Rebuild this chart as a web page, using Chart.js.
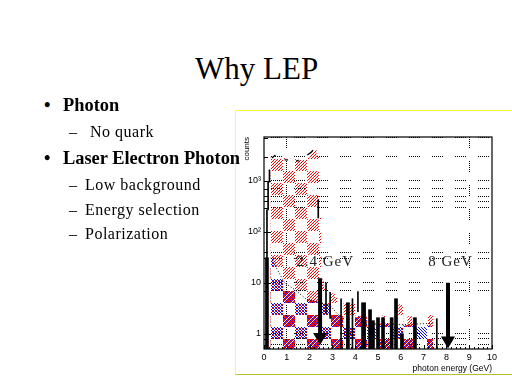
<!DOCTYPE html>
<html>
<head>
<meta charset="utf-8">
<title>Why LEP</title>
<script src="https://cdn.jsdelivr.net/npm/chart.js@4/dist/chart.umd.min.js"></script>
<style>
  html, body { margin: 0; padding: 0; background: #fff; }
  body { position: relative; width: 512px; height: 384px; overflow: hidden; font-family: "Liberation Serif", serif; color: #000; }
  .line { position: absolute; white-space: pre; line-height: 1; z-index: 2; }
  .head { font-size: 31px; }
  .main { font-size: 18.4px; font-weight: bold; }
  .sub { font-size: 16px; letter-spacing: 0.5px; }
  #frame { position: absolute; left: 235px; top: 110px; width: 277px; height: 263px; border-left: 1px solid #ffff33; border-top: 1px solid #ffff33; border-bottom: 1px solid #bcbc2a; z-index: 1; }
  #spectrum { position: absolute; left: 236px; top: 111px; z-index: 1; }
</style>
</head>
<body>
<div id="frame"></div>
<canvas id="spectrum" width="276" height="263"></canvas>

<div class="line head" style="left:195px;top:53px">Why LEP</div>
<div class="line main" style="left:44px;top:96px">•</div>
<div class="line main" style="left:63px;top:96px">Photon</div>
<div class="line sub" style="left:69px;top:124px">–</div>
<div class="line sub" style="left:90px;top:124px">No quark</div>
<div class="line main" style="left:44px;top:149px">•</div>
<div class="line main" style="left:63px;top:149px">Laser Electron Photon</div>
<div class="line sub" style="left:69px;top:177px">–</div>
<div class="line sub" style="left:85px;top:177px">Low background</div>
<div class="line sub" style="left:69px;top:202px">–</div>
<div class="line sub" style="left:85px;top:202px">Energy selection</div>
<div class="line sub" style="left:69px;top:226px">–</div>
<div class="line sub" style="left:85px;top:226px">Polarization</div>

<script>
// red histogram, 0.1 GeV bins
const redEnergy = [
  0.35, 0.45, 0.55, 0.65, 0.75, 0.85, 0.95, 1.05, 1.15, 1.25, 1.35, 1.45, 1.55, 1.65, 1.75, 1.85,
  1.95, 2.05, 2.15, 2.25, 2.35, 2.45, 2.55, 2.65, 2.75, 2.85, 2.95, 3.05, 3.15, 3.25, 3.35, 3.45,
  3.55, 3.65, 3.75, 3.85, 3.95, 4.05, 4.15, 4.25, 4.45, 5.25, 5.95, 6.05, 6.35, 6.45, 7.25, 7.35,
];
const redCounts = [
  2950, 2950, 3100, 2900, 2800, 2700, 2650, 2600, 2600, 2600, 2550, 2500, 2500, 2450, 2450, 2500,
  2700, 3100, 3500, 3900, 3000, 187, 11, 8, 6.5, 6, 6, 5.8, 5, 3, 2.6, 2.4,
  4, 4, 4, 4, 4, 2, 2, 2, 1.5, 2.2, 3.6, 3.5, 2.1, 2.1, 2.4, 2.4,
];

// blue histogram, same bins
const blueEnergy = [
  0.35, 0.45, 0.55, 0.65, 0.75, 0.85, 0.95, 1.05, 1.15, 1.25, 1.35, 1.45, 1.55, 1.65, 1.75, 1.85,
  1.95, 2.05, 2.15, 2.25, 2.35, 2.45, 2.55, 2.65, 2.75, 2.85, 2.95, 3.05, 3.15, 3.25, 3.35, 3.45,
  3.55, 3.65, 3.75, 3.85, 3.95, 4.05, 4.15, 4.25, 4.35, 4.45, 4.55, 4.65, 4.75, 4.85, 4.95, 5.05,
  5.15, 5.25, 5.35, 5.45, 5.55, 5.65, 5.75, 5.85, 5.95, 6.05, 6.15, 6.25, 6.35, 6.45, 6.55, 6.65,
  6.75, 6.85, 6.95, 7.05, 7.15, 7.25, 7.35,
];
const blueCounts = [
  31, 25, 20, 16, 13, 10.5, 9.5, 8.5, 8, 7.5, 7.2, 6.6, 6.2, 5.8, 5.4, 5,
  4.6, 4.5, 4.3, 4.2, 4.1, 4, 3.7, 3.7, 3.7, 3.6, 3.2, 2.8, 2.5, 2.3, 2.2, 2,
  1.4, 1.4, 1.4, 1.4, 1.3, 2, 2.1, 2.1, 2.1, 2.05, 1.5, 1.5, 1.5, 1.5, 1.5, 1.5,
  1.5, 1.5, 1.5, 1.5, 1.5, 1.5, 1.5, 1.5, 1.5, 1.4, 1.4, 1.4, 1.4, 1.4, 1.5, 1.5,
  1.5, 1.5, 1.4, 1.4, 1.4, 1.4, 1.3,
];

// black spikes of the third histogram, low and high end of each one
const thickEnergy = [0.13, 3.68, 4.39, 4.65, 4.78, 5.0, 5.22, 5.6, 5.79, 6.05, 6.62];
const thickLow = [0.5, 0.5, 0.5, 0.5, 0.5, 0.5, 0.5, 0.5, 0.5, 0.5, 0.5];
const thickHigh = [31, 4.05, 4.05, 2.96, 1.8, 2.06, 2.06, 2.06, 4.86, 1, 2.06];

const thinEnergy = [0.13, 0.18, 0.24, 2.38, 2.72, 2.9, 3.38, 3.88, 4.12, 4.3, 7.58];
const thinLow = [31, 270, 950, 187, 2.5, 2, 0.5, 0.5, 2.7, 0.5, 0.5];
const thinHigh = [270, 950, 1650, 425, 10, 6.5, 4.86, 4.86, 6.7, 4.05, 1.97];

// solid top edge and dotted edge of the blue histogram
const topEnergy = [0.35, 0.5, 0.6, 0.9, 1.05, 1.2, 1.4, 1.55, 1.7, 1.9, 2.05, 2.15];
const topCounts = [2830, 3240, null, 2590, 2590, null, 2480, 2480, null, 3240, 3600, 4000];
const dotEnergy = [0.3, 0.9, 1.35, 1.9, 2.35, 2.9, 3.2, 3.45, 4.0, 4.6, 5.2, 6.0, 7.4];
const dotCounts = [31, 10, 7.3, 4.6, 4.2, 3.6, 2.5, 2, 1.9, 1.5, 1.6, 1.5, 1.6];

// axes
const yMin = 0.5;
const yMax = 7300;
const gridRows = [0.6, 0.8, 1, 7, 10, 30, 40, 100, 300, 400, 500, 700, 1000, 3000, 7000];
const yLabels = { 1: "1", 10: "10", 100: "10²", 1000: "10³" };
const gridColumns = [1, 9];

// annotations
const arrowEnergy = [2.46, 8.07];
const arrowTop = [12.3, 10];
const arrowTip = [0.6, 0.51];
const arrowText = ["2.4 GeV", "8 GeV"];
const textEnergy = [1.41, 7.2];
const textCounts = [21, 21];

// 24px tile of hatched squares, lined up with the canvas origin
function makeTile(paint) {
  const tile = document.createElement("canvas");
  tile.width = 24;
  tile.height = 24;
  const c = tile.getContext("2d");
  for (let px = 0; px < 24; px++) {
    for (let py = 0; py < 24; py++) {
      const u = (px + 13) % 24;
      const v = (py + 0) % 24;
      const a = u < 12 && v < 12;
      const b = u >= 12 && v >= 12;
      if (!a && !b) continue;
      const color = paint(u, v, a);
      if (color) {
        c.fillStyle = color;
        c.fillRect(px, py, 1, 1);
      }
    }
  }
  return c.createPattern(tile, "repeat");
}

const redHatch = makeTile((u, v) => ((u + v) % 3 === 0 ? "#ff0000" : null));
const blueHatch = makeTile((u, v, a) => {
  if (a) return (u - v + 24) % 3 === 0 ? "#0000ff" : null;
  if ((u + v) % 4 === 3) return null;
  return (Math.floor(u / 2) + Math.floor(v / 2)) % 2 ? "#0000ff" : "#ff0000";
});

function points(xs, ys) {
  return xs.map((x, i) => ({ x: x, y: ys[i] }));
}

function floating(xs, lows, highs) {
  return xs.map((x, i) => ({ x: x, y: [lows[i], highs[i]] }));
}

// frame, small inner ticks, arrows and the two energy labels
const decorations = {
  id: "decorations",
  afterDraw(chart) {
    const ctx = chart.ctx;
    const area = chart.chartArea;
    const x = chart.scales.x;
    const y = chart.scales.y;
    ctx.save();
    ctx.strokeStyle = "#000";
    ctx.lineWidth = 1;
    gridRows.forEach((v) => {
      const py = Math.round(y.getPixelForValue(v)) + 0.5;
      const len = v in yLabels ? 7 : 4;
      ctx.beginPath();
      ctx.moveTo(area.left, py);
      ctx.lineTo(area.left + len, py);
      ctx.stroke();
    });
    for (let i = 0; i <= 50; i++) {
      const px = Math.round(x.getPixelForValue(i / 5)) + 0.5;
      ctx.beginPath();
      ctx.moveTo(px, area.bottom);
      ctx.lineTo(px, area.bottom - (i % 5 === 0 ? 4 : 2));
      ctx.stroke();
    }
    ctx.lineWidth = 1.2;
    ctx.strokeRect(area.left, area.top, area.right - area.left, area.bottom - area.top);

    ctx.fillStyle = "#000";
    arrowEnergy.forEach((e, i) => {
      const px = x.getPixelForValue(e);
      const top = y.getPixelForValue(arrowTop[i]);
      const tip = y.getPixelForValue(arrowTip[i]);
      ctx.fillRect(px - 2, top, 4, tip - top - 6);
      ctx.beginPath();
      ctx.moveTo(px - 7, tip - 12);
      ctx.lineTo(px + 7, tip - 12);
      ctx.lineTo(px, tip);
      ctx.closePath();
      ctx.fill();
    });

    ctx.font = "15px 'Liberation Serif'";
    ctx.letterSpacing = "1px";
    ctx.fillStyle = "#222";
    ctx.textBaseline = "alphabetic";
    arrowText.forEach((t, i) => {
      ctx.fillText(t, x.getPixelForValue(textEnergy[i]), y.getPixelForValue(textCounts[i]));
    });
    ctx.restore();
  },
};

const ctx = document.getElementById("spectrum").getContext("2d");

new Chart(ctx, {
  type: "bar",
  data: {
    datasets: [
      { type: "line", data: points(topEnergy, topCounts), borderColor: "#000", borderWidth: 1.3, pointRadius: 0, spanGaps: false, order: 1 },
      { type: "line", data: points(dotEnergy, dotCounts), borderColor: "#000", borderWidth: 1, borderDash: [1, 2], pointRadius: 0, order: 1 },
      { data: floating(thickEnergy, thickLow, thickHigh), backgroundColor: "#000", barThickness: 3, grouped: false, order: 2 },
      { data: floating(thinEnergy, thinLow, thinHigh), backgroundColor: "#000", barThickness: 1, grouped: false, order: 2 },
      { data: points(blueEnergy, blueCounts), backgroundColor: blueHatch, barPercentage: 1, categoryPercentage: 1, inflateAmount: 1, grouped: false, order: 3 },
      { data: points(redEnergy, redCounts), backgroundColor: redHatch, barPercentage: 1, categoryPercentage: 1, inflateAmount: 1, grouped: false, order: 4 },
    ],
  },
  options: {
    responsive: false,
    animation: false,
    layout: { padding: { top: 26, right: 20, left: 0, bottom: 0 } },
    plugins: { legend: { display: false }, tooltip: { enabled: false } },
    scales: {
      x: {
        type: "linear",
        offset: false,
        min: 0,
        max: 10,
        afterFit: (scale) => { scale.height = 25; },
        afterBuildTicks: (scale) => {
          scale.ticks = [0, 1, 2, 3, 4, 5, 6, 7, 8, 9, 10].map((v) => ({ value: v }));
        },
        ticks: {
          color: "#000",
          padding: 3,
          maxRotation: 0,
          autoSkip: false,
          font: { family: "Liberation Sans", size: 9 },
        },
        grid: {
          z: 1,
          offset: false,
          drawTicks: false,
          lineWidth: 1,
          color: (c) => (c.tick && gridColumns.includes(c.tick.value) ? "#000" : "rgba(0,0,0,0)"),
        },
        border: { display: false, dash: [1, 1, 1, 1, 1, 1, 1, 1, 1, 1, 1, 13], dashOffset: 24 },
        title: {
          display: true,
          text: "photon energy (GeV)",
          align: "end",
          color: "#000",
          padding: 0,
          font: { family: "Liberation Sans", size: 8.5 },
        },
      },
      y: {
        type: "logarithmic",
        min: yMin,
        max: yMax,
        afterFit: (scale) => { scale.width = 28; },
        afterBuildTicks: (scale) => {
          scale.ticks = gridRows.map((v) => ({ value: v }));
        },
        ticks: {
          color: "#000",
          padding: 3,
          autoSkip: false,
          font: { family: "Liberation Sans", size: 9 },
          callback: (v) => yLabels[v] || "",
        },
        grid: {
          z: 1,
          drawTicks: false,
          lineWidth: 1,
          color: (c) => (c.tick && c.tick.value !== 100 ? "#000" : "rgba(0,0,0,0)"),
        },
        border: { display: false, dash: [1, 1, 1, 1, 1, 1, 1, 1, 1, 1, 1, 12], dashOffset: 16 },
        title: {
          display: true,
          text: "counts",
          align: "end",
          color: "#000",
          padding: { top: 6, bottom: 0 },
          font: { family: "Liberation Sans", size: 8 },
        },
      },
    },
  },
  plugins: [decorations],
});
</script>
</body>
</html>
